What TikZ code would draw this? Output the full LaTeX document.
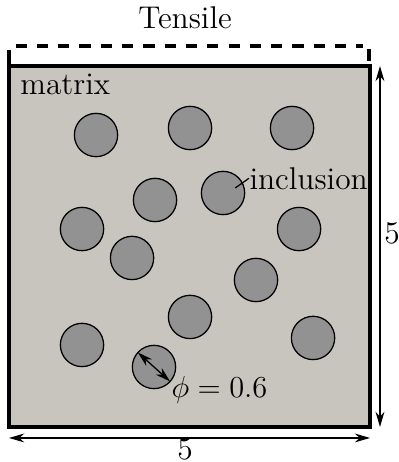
\documentclass[tikz,border=0pt]{standalone}
\usetikzlibrary{arrows.meta}
\definecolor{matrixfill}{RGB}{200,197,190}
\definecolor{inclfill}{RGB}{146,146,146}
\begin{document}
\begin{tikzpicture}[
  incl/.style={circle, draw=black, line width=0.5pt, fill=inclfill, minimum size=0.6cm, inner sep=0pt, outer sep=0pt},
  lbl/.style={font=\fontsize{12.4}{14}\selectfont, inner sep=0pt},
  dimarrow/.style={line width=0.5pt, {Stealth[length=6pt,width=3.5pt]}-{Stealth[length=6pt,width=3.5pt]}},
  boundary/.style={line width=1.3pt}
]
\useasboundingbox (-0.125,-0.485) rectangle (5.388,5.914);
% matrix
\node[draw=black, line width=1.3pt, fill=matrixfill, minimum width=5cm, minimum height=5cm, inner sep=0pt, outer sep=0pt, anchor=south west] (mat) at (0,0) {};
% inclusions
\node[incl] (c1) at (1.205,4.044) {};
\node[incl] (c2) at (2.507,4.141) {};
\node[incl] (c3) at (3.920,4.141) {};
\node[incl] (c4) at (2.022,3.144) {};
\node[incl] (c5) at (2.964,3.241) {};
\node[incl] (c6) at (1.011,2.742) {};
\node[incl] (c7) at (4.017,2.742) {};
\node[incl] (c8) at (1.704,2.341) {};
\node[incl] (c9) at (3.421,2.036) {};
\node[incl] (c10) at (2.507,1.524) {};
\node[incl] (c11) at (1.011,1.136) {};
\node[incl] (c12) at (2.008,0.831) {};
\node[incl] (c13) at (4.211,1.233) {};
% labels
\node[lbl, anchor=base west] (mlabel) at (0.15,4.60) {matrix};
\node[lbl, anchor=base west] (ilabel) at (3.324,3.296) {inclusion};
\draw[line width=0.5pt] (c5.center) ++(0.17,0.07) coordinate (ileader) -- (ilabel.west);
\node[lbl, anchor=base west] (phi) at (2.244,0.402) {$\phi = 0.6$};
\draw[dimarrow] (c12.138) -- (c12.-42);
% tensile boundary
\coordinate (tl0) at (0,5);
\coordinate (tl1) at (0,5.22);
\coordinate (tr0) at (4.986,5.07);
\coordinate (tr1) at (4.986,5.236);
\draw[boundary] (tl0) -- (tl1);
\draw[boundary] (tr0) -- (tr1);
\coordinate (d0) at (0.09,5.277);
\coordinate (d1) at (4.9,5.277);
\draw[boundary, dash pattern=on 0.155cm off 0.14cm] (d0) -- (d1);
\node[lbl] (tensile) at (2.438,5.665) {Tensile};
% dimensions
\coordinate (h0) at (0,-0.152);
\coordinate (h1) at (5.0,-0.152);
\draw[dimarrow] (h0) -- (h1);
\node[lbl] (hdim) at (2.438,-0.305) {5};
\coordinate (v0) at (5.138,0);
\coordinate (v1) at (5.138,5.0);
\draw[dimarrow] (v0) -- (v1);
\node[lbl] (vdim) at (5.305,2.687) {5};
\end{tikzpicture}
\end{document}
